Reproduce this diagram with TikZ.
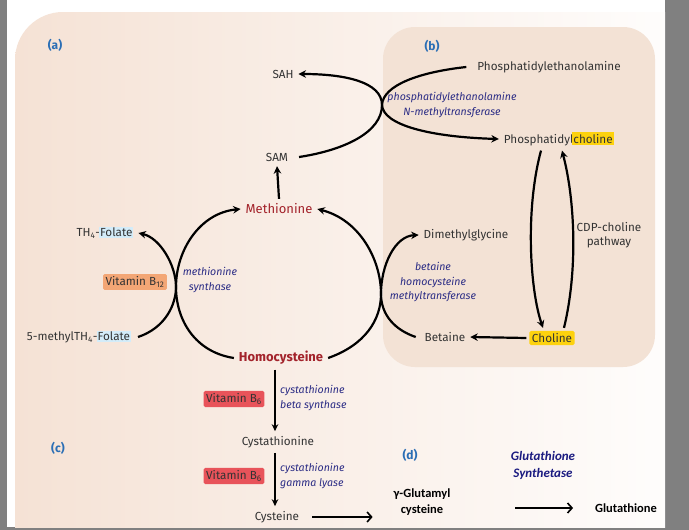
\documentclass[tikz,border=0pt]{standalone}
\usepackage{fontspec}
\setmainfont{Fira Sans}
\newfontfamily\calfont{Carlito}
\usetikzlibrary{arrows.meta}
\definecolor{framegray}{HTML}{808080}
\definecolor{peach}{HTML}{F5E2D5}
\definecolor{panelb}{HTML}{F3E2D5}
\definecolor{txtgray}{HTML}{333333}
\definecolor{metred}{HTML}{A3232B}
\definecolor{enzblue}{HTML}{2B2C85}
\definecolor{labblue}{HTML}{2A6EB5}
\definecolor{folblue}{HTML}{D3ECF9}
\definecolor{orgbox}{HTML}{F3A675}
\definecolor{redbox}{HTML}{E8535A}
\definecolor{yelbox}{HTML}{FDD20E}
\definecolor{navy}{HTML}{1A1A80}
\newcommand\hlfol[1]{{\setlength\fboxsep{1pt}\kern-1pt\colorbox{folblue}{#1}}}
\newcommand\hlyel[1]{{\setlength\fboxsep{1.5pt}\kern-1.5pt\colorbox{yelbox}{#1}}}
\tikzset{
  met/.style={text=txtgray,font=\fontsize{11.7}{13.5}\selectfont,inner sep=1pt,outer sep=4pt},
  aa/.style={text=metred,font=\fontsize{13}{15}\selectfont,inner sep=1pt,outer sep=4pt},
  enz/.style={text=enzblue,font=\fontsize{10.6}{14.5}\selectfont\itshape,align=center,inner sep=1pt},
  lab/.style={text=labblue,font=\fontsize{12}{14}\selectfont\bfseries},
  vbox/.style={text=txtgray,font=\fontsize{11.7}{13.5}\selectfont,rounded corners=1.5pt,inner sep=2.5pt,outer sep=3pt},
  gsh/.style={text=black,font=\calfont\fontsize{12.5}{16}\selectfont\bfseries,align=center,inner sep=1pt,outer sep=4pt},
  gsenz/.style={text=navy,font=\calfont\fontsize{13}{17}\selectfont\bfseries\itshape,align=center},
  arr/.style={line width=2.2pt,-{Stealth[length=7.5pt,width=7.5pt]}},
  arrs/.style={line width=1.6pt,-{Stealth[length=7pt,width=6.5pt]}},
  arro/.style={line width=1.6pt,-{Straight Barb[length=4.5pt,width=10pt]}}
}
\begin{document}
\begin{tikzpicture}[x=1pt,y=-1pt]
  \useasboundingbox (0,0) rectangle (689,530);
  \fill[framegray] (0,0) rectangle (689,530);
  \fill[white] (7,0) rectangle (665,527);
  \begin{scope}
    \clip (7,0) rectangle (665,527);
    \shade[left color=peach,right color=white,rounded corners=48] (15,12) rectangle (720,590);
  \end{scope}
  \fill[panelb,rounded corners=32] (383,27) rectangle (655,367);

  \node[lab] (la) at (55,45) {(a)};
  \node[lab] (lb) at (432,46) {(b)};
  \node[lab] (lc) at (58,448) {(c)};
  \node[lab] (ld) at (410,455) {(d)};

  \node[met] (sah) at (283,74) {SAH};
  \node[met] (sam) at (277,157) {SAM};
  \node[aa] (meth) at (279,209) {Methionine};
  \node[aa,font=\fontsize{13}{15}\selectfont\bfseries] (homo) at (281,358) {Homocysteine};
  \node[met] (pe) at (549,67) {Phosphatidylethanolamine};
  \node[met] (pc) at (559,139) {Phosphatidyl\hlyel{choline}};
  \node[enz] (pemt) at (452,105) {phosphatidylethanolamine\\N-methyltransferase};
  \node[met] (thf) at (105,233) {TH\textsubscript{4}-\hlfol{Folate}};
  \node[met] (mthf) at (79,337) {5-methylTH\textsubscript{4}-\hlfol{Folate}};
  \node[vbox,fill=orgbox] (b12) at (135,282) {Vitamin B\textsubscript{12}};
  \node[enz] (ms) at (210,280) {methionine\\synthase};
  \node[met] (dmg) at (466,235) {Dimethylglycine};
  \node[met] (bet) at (445,337) {Betaine};
  \node[enz] (bhmt) at (433,282) {betaine\\homocysteine\\methyltransferase};
  \node[vbox,fill=yelbox] (chol) at (552,338) {Choline};
  \node[met,align=center] (cdp) at (609,235) {CDP-choline\\pathway};
  \node[vbox,fill=redbox] (b6a) at (234,399) {Vitamin B\textsubscript{6}};
  \node[enz,anchor=west,align=left] (cbs) at (279,398) {cystathionine\\beta synthase};
  \node[met] (cysta) at (278,442) {Cystathionine};
  \node[vbox,fill=redbox] (b6b) at (234,476) {Vitamin B\textsubscript{6}};
  \node[enz,anchor=west,align=left] (cgl) at (279,476) {cystathionine\\gamma lyase};
  \node[met] (cys) at (277,517) {Cysteine};
  \node[gsh] (ggc) at (422,502) {γ-Glutamyl\\cysteine};
  \node[gsh] (gsh) at (626,508) {Glutathione};
  \node[gsenz] (gss) at (543,465) {Glutathione\\Synthetase};

  \coordinate (kt) at (382,105);
  \coordinate (kl) at (176,287);
  \coordinate (kr) at (381,294);

  \draw[arr] ([xshift=6]sam.east) .. controls (345,150) and (382,132) .. (kt) .. controls (382,82) and (345,74) .. (sah.east);
  \draw[arr] ([xshift=-6]pe.west) .. controls (420,72) and (383,85) .. (kt) .. controls (383,125) and (430,137) .. (pc.west);
  \draw[arr] (meth.north) -- (sam.south);
  \draw[arr] (homo.west) .. controls (195,352) and (176,320) .. (kl) .. controls (176,250) and (200,213) .. (meth.west);
  \draw[arr] ([xshift=2]mthf.east) .. controls (165,328) and (176,305) .. (kl) .. controls (176,265) and (160,238) .. (thf.east);
  \draw[arr] (homo.east) .. controls (365,345) and (381,320) .. (kr) .. controls (381,260) and (360,220) .. (meth.east);
  \draw[arr] ([xshift=-4]bet.west) .. controls (395,330) and (381,315) .. (kr) .. controls (381,265) and (395,236) .. (dmg.west);
  \draw[arr] (chol.west) -- (bet.east);
  \draw[arr] ([xshift=-18]pc.south) .. controls (525,210) and (530,290) .. ([xshift=-9]chol.north);
  \draw[arr] ([xshift=12]chol.north) .. controls (578,270) and (575,200) .. ([xshift=3]pc.south);
  \draw[arrs] ([xshift=-6]homo.south) -- ([xshift=-3]cysta.north);
  \draw[arrs] ([xshift=-3]cysta.south) -- ([xshift=-2]cys.north);
  \draw[arro,shorten <=35pt,shorten >=16pt] (cys.center) -- (cys.center -| ggc.west);
  \draw[arro,shorten <=60pt,shorten >=17pt] (ggc.east |- gsh.west) -- (gsh.west);
\end{tikzpicture}
\end{document}
